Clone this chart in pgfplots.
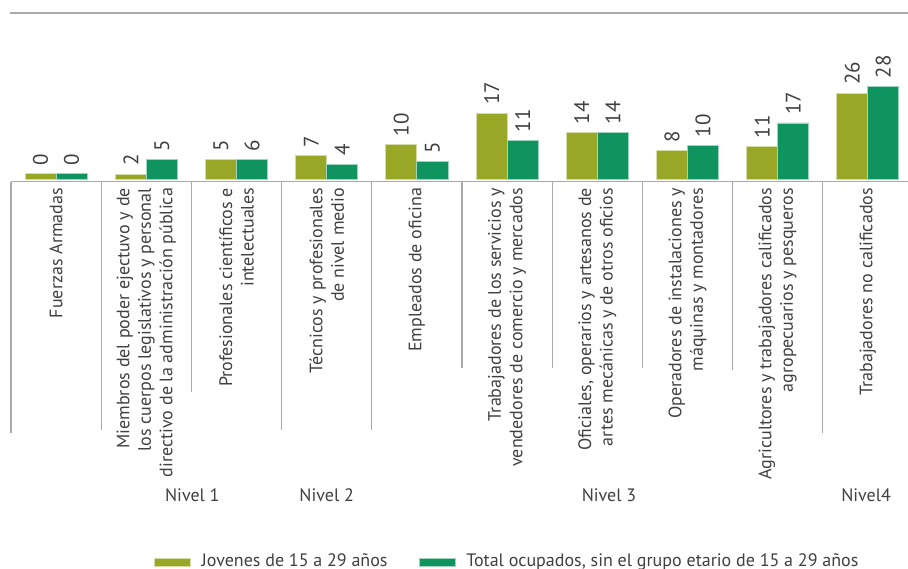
\documentclass[border=0pt]{standalone}
\usepackage{fontspec}
\setmainfont{PT Sans}
\usepackage{pgfplots}
\pgfplotsset{compat=1.18}
\usepackage{pgfplotstable}
\definecolor{cOlive}{RGB}{152,168,38}
\definecolor{cTeal}{RGB}{15,148,95}
\definecolor{cTxt}{RGB}{64,64,64}
\definecolor{cLine}{RGB}{170,170,170}

\pgfplotstableread{
x y lab
0 1.6 0
1 1.4 2
2 5.9 5
3 7.0 7
4 10.3 10
5 19.8 17
6 14.0 14
7 8.5 8
8 9.8 11
9 25.8 26
}\jovenes

\pgfplotstableread{
x y lab
0 1.6 0
1 5.9 5
2 5.9 6
3 4.4 4
4 5.2 5
5 11.5 11
6 14.0 14
7 10.0 10
8 16.9 17
9 27.8 28
}\total

\begin{document}
\begin{tikzpicture}
\begin{axis}[
  x=45.1pt, y=1.66pt,
  xmin=-0.5, xmax=9.445, ymin=-0.8, ymax=50,
  axis line style={draw=none},
  ytick=\empty,
  xtick={0,...,9},
  xticklabels={
    {Fuerzas Armadas},
    {Miembros del poder ejectuvo y de\\los cuerpos legislativos y personal\\directivo de la administración pública},
    {Profesionales científicos e\\intelectuales},
    {Técnicos y profesionales\\de nivel medio},
    {Empleados de oficina},
    {Trabajadores de los servicios y\\vendedores de comercio y mercados},
    {Oficiales, operarios y artesanos de\\artes mecánicas y de otros oficios},
    {Operadores de instalaciones y\\máquinas y montadores},
    {Agricultores y trabajadores calificados\\agropecuarios y pesqueros},
    {Trabajadores no calificados}},
  major tick length=0pt,
  xticklabel style={rotate=90, anchor=east, align=right, inner ysep=0pt, inner xsep=3pt,
    font=\fontsize{9}{10.75}\selectfont, text=cTxt},
  clip=false,
  ybar,
  bar width=0.344,
  nodes near coords,
  point meta=explicit symbolic,
  every node near coord/.append style={rotate=90, anchor=west, inner sep=4pt,
    font=\fontsize{10.5}{12}\selectfont, text=cTxt},
  legend image code/.code={\fill[#1] (0pt,-2pt) rectangle (18pt,2pt);},
  legend columns=2,
  legend cell align=left,
  legend style={at={(axis description cs:0.552,0)}, anchor=center, yshift=-190.15pt,
    draw=none, fill=none, font=\fontsize{9}{11}\selectfont, text=cTxt,
    nodes={inner sep=0pt},
    /tikz/every odd column/.append style={column sep=5.5pt},
    /tikz/every even column/.append style={column sep=15.5pt}},
]
\addplot[fill=cOlive, draw=white!60!cOlive, line width=0.4pt, bar shift=-0.172]
  table[x=x, y=y, meta=lab] {\jovenes};
\addlegendentry{Jovenes de 15 a 29 años}
\addplot[fill=cTeal, draw=white!60!cTeal, line width=0.4pt, bar shift=0.172]
  table[x=x, y=y, meta=lab] {\total};
\addlegendentry{Total ocupados, sin el grupo etario de 15 a 29 años}

% axis lines
\draw[cLine, line width=0.7pt] ([xshift=-0.5pt]axis cs:-0.5,50) -- (axis cs:9.445,50);
\draw[cLine, line width=0.7pt] (axis cs:-0.5,-0.8) -- (axis cs:9.445,-0.8);
% separators
\draw[cLine, line width=0.6pt] (axis cs:-0.5,-0.8) -- ++(0pt,-125.5pt);
\draw[cLine, line width=0.6pt] (axis cs:0.5,-0.8) -- ++(0pt,-124pt);
\draw[cLine, line width=0.6pt] (axis cs:1.5,-0.8) -- ++(0pt,-105pt);
\draw[cLine, line width=0.6pt] (axis cs:2.5,-0.8) -- ++(0pt,-124pt);
\draw[cLine, line width=0.6pt] (axis cs:3.5,-0.8) -- ++(0pt,-124pt);
\draw[cLine, line width=0.6pt] (axis cs:4.5,-0.8) -- ++(0pt,-93pt);
\draw[cLine, line width=0.6pt] (axis cs:5.5,-0.8) -- ++(0pt,-93pt);
\draw[cLine, line width=0.6pt] (axis cs:6.5,-0.8) -- ++(0pt,-93pt);
\draw[cLine, line width=0.6pt] (axis cs:7.5,-0.8) -- ++(0pt,-94pt);
\draw[cLine, line width=0.6pt] (axis cs:8.5,-0.8) -- ++(0pt,-125.5pt);
% group labels
\node[font=\fontsize{9}{11}\selectfont, text=cTxt] at ([yshift=-156.7pt]axis cs:1.51,-0.8) {Nivel 1};
\node[font=\fontsize{9}{11}\selectfont, text=cTxt] at ([yshift=-156.7pt]axis cs:3.0,-0.8) {Nivel 2};
\node[font=\fontsize{9}{11}\selectfont, text=cTxt] at ([yshift=-156.7pt]axis cs:6.13,-0.8) {Nivel 3};
\node[font=\fontsize{9}{11}\selectfont, text=cTxt] at ([yshift=-156.7pt]axis cs:8.98,-0.8) {Nivel4};
% bounding box corners
\coordinate (bbtl) at ([xshift=-5.5pt, yshift=6.5pt]axis cs:-0.5,50);
\coordinate (bbbr) at ([yshift=-193.65pt]axis cs:9.445,-0.8);
\end{axis}
\pgfresetboundingbox
\path[use as bounding box] (bbtl) rectangle (bbbr);
\end{tikzpicture}
\end{document}
